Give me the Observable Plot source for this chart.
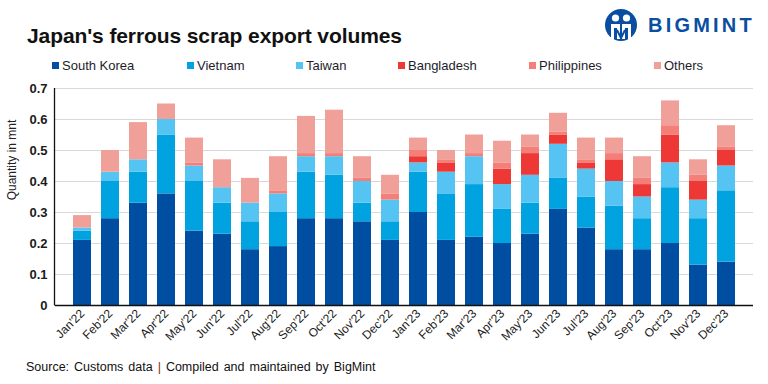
<!DOCTYPE html>
<html>
<head>
<meta charset="utf-8">
<script src="https://cdn.jsdelivr.net/npm/d3@7"></script>
<script src="https://cdn.jsdelivr.net/npm/@observablehq/plot@0.6"></script>
<style>
  html, body { margin: 0; padding: 0; background: #fff; }
  body { width: 768px; height: 384px; overflow: hidden; font-family: "Liberation Sans", Arial, sans-serif; }
  #wrap { position: relative; width: 768px; height: 384px; }
  #chart { position: absolute; left: 0; top: 0; }
  .title { position: absolute; left: 27px; top: 24px; font-size: 21px; font-weight: bold; color: #111; letter-spacing: -0.1px; }
  .legend-item { position: absolute; top: 58px; font-size: 13px; color: #1d1d2b; white-space: nowrap; line-height: 16px; }
  .legend-item i { display: inline-block; width: 7px; height: 7px; margin-right: 3px; vertical-align: 1px; }
  .ylabel { position: absolute; left: 12px; top: 160px; transform: translate(-50%, -50%) rotate(-90deg); transform-origin: center; font-size: 12px; color: #222; white-space: nowrap; }
  .source { position: absolute; left: 26px; top: 360px; font-size: 12.5px; color: #111; word-spacing: 1.5px; }
  .source .bar { color: #8b1a1a; }
  .logo { position: absolute; left: 604px; top: 8px; display: flex; align-items: center; }
  .logo span { font-weight: bold; font-size: 20px; color: #0a4ea2; letter-spacing: 3.2px; margin-left: 10px; }
</style>
</head>
<body>
<div id="wrap">
  <div id="chart"></div>
</div>
<script>
const months = ["Jan'22","Feb'22","Mar'22","Apr'22","May'22","Jun'22","Jul'22","Aug'22","Sep'22","Oct'22","Nov'22","Dec'22",
                "Jan'23","Feb'23","Mar'23","Apr'23","May'23","Jun'23","Jul'23","Aug'23","Sep'23","Oct'23","Nov'23","Dec'23"];
const countries = ["South Korea","Vietnam","Taiwan","Bangladesh","Philippines","Others"];
const colors = ["#004ea2","#00a3e0","#55c4f2","#ee3835","#f47f79","#f0a099"];

const southKorea  = [0.21,0.28,0.33,0.36,0.24,0.23,0.18,0.19,0.28,0.28,0.27,0.21, 0.30,0.21,0.22,0.20,0.23,0.31,0.25,0.18,0.18,0.20,0.13,0.14];
const vietnam     = [0.03,0.12,0.10,0.19,0.16,0.10,0.09,0.11,0.15,0.14,0.06,0.06, 0.13,0.15,0.17,0.11,0.10,0.10,0.10,0.14,0.10,0.18,0.15,0.23];
const taiwan      = [0.01,0.03,0.04,0.05,0.05,0.05,0.06,0.06,0.05,0.06,0.07,0.07, 0.03,0.07,0.09,0.08,0.09,0.11,0.09,0.08,0.07,0.08,0.06,0.08];
const bangladesh  = [0,0,0,0,0,0,0,0,0,0,0,0, 0.02,0.03,0,0.05,0.07,0.03,0.02,0.07,0.04,0.09,0.06,0.05];
const philippines = [0,0,0,0,0.01,0,0,0.01,0.01,0.01,0.01,0.02, 0.02,0.01,0.01,0.02,0.02,0.01,0.01,0.02,0.02,0.03,0.02,0.01];
const others      = [0.04,0.07,0.12,0.05,0.08,0.09,0.08,0.11,0.12,0.14,0.07,0.06, 0.04,0.03,0.06,0.07,0.04,0.06,0.07,0.05,0.07,0.08,0.05,0.07];

const yTicks = [0,0.1,0.2,0.3,0.4,0.5,0.6,0.7];
const yTickLabels = ["0","0.1","0.2","0.3","0.4","0.5","0.6","0.7"];

const seriesValues = [southKorea, vietnam, taiwan, bangladesh, philippines, others];
const data = [];
countries.forEach((c, ci) => {
  months.forEach((m, mi) => data.push({month: m, country: c, value: seriesValues[ci][mi]}));
});

const chart = Plot.plot({
  width: 768,
  height: 384,
  marginLeft: 55,
  marginRight: 15,
  marginTop: 88,
  marginBottom: 79,
  style: {fontFamily: "'Liberation Sans', Arial, sans-serif", background: "transparent"},
  x: {domain: months, padding: 0.34, label: null},
  y: {domain: [0, 0.7], label: null},
  color: {domain: countries, range: colors},
  marks: [
    Plot.gridY(yTicks, {stroke: "#d9d9d9", strokeOpacity: 1, strokeWidth: 1.2}),
    Plot.barY(data, {x: "month", y: "value", fill: "country", order: countries}),
    Plot.ruleY([0], {stroke: "#111", strokeWidth: 1.3}),
    (index, scales, values, dimensions) => {
      const g = d3.create("svg:line")
        .attr("x1", dimensions.marginLeft - 0.5)
        .attr("x2", dimensions.marginLeft - 0.5)
        .attr("y1", dimensions.marginTop)
        .attr("y2", dimensions.height - dimensions.marginBottom + 0.5)
        .attr("stroke", "#111")
        .attr("stroke-width", 1.3);
      return g.node();
    },
    Plot.axisY({ticks: yTicks, tickFormat: (d) => yTickLabels[yTicks.indexOf(d)], tickSize: 0, tickPadding: 8,
      fontSize: 13, fontWeight: "bold", fill: "#1b1b1b", label: null}),
    Plot.axisX({tickSize: 0, tickRotate: -45, tickPadding: 6, fontSize: 12, fill: "#222", label: null})
  ]
});
document.getElementById("chart").appendChild(chart);

const wrap = document.getElementById("wrap");
const title = document.createElement("div");
title.className = "title";
title.textContent = "Japan's ferrous scrap export volumes";
wrap.appendChild(title);

const legendX = [52, 187, 296, 398, 529, 654];
countries.forEach((c, i) => {
  const el = document.createElement("div");
  el.className = "legend-item";
  el.style.left = legendX[i] + "px";
  el.innerHTML = `<i style="background:${colors[i]}"></i>${c}`;
  wrap.appendChild(el);
});

const yl = document.createElement("div");
yl.className = "ylabel";
yl.textContent = "Quantity in mnt";
wrap.appendChild(yl);

const src = document.createElement("div");
src.className = "source";
src.innerHTML = 'Source: Customs data <span class="bar">|</span> Compiled and maintained by BigMint';
wrap.appendChild(src);

const logo = document.createElement("div");
logo.className = "logo";
logo.innerHTML = `<svg width="34" height="34" viewBox="0 0 34 34">
  <circle cx="17" cy="17" r="16" fill="#0a4ea2"/>
  <circle cx="11.5" cy="10" r="3.6" fill="#fff"/>
  <circle cx="22.5" cy="10" r="3.6" fill="#fff"/>
  <path d="M7 16 h9 v15 h-3 v-11 h-3 v11 h-3z" fill="#fff"/>
  <path d="M18 16 h9 v15 h-3 v-11 h-3 v11 h-3z" fill="#fff"/>
  <path d="M13 22 L17 30 L21 22" stroke="#0a4ea2" stroke-width="2" fill="none"/>
</svg><span>BIGMINT</span>`;
wrap.appendChild(logo);
</script>
</body>
</html>
